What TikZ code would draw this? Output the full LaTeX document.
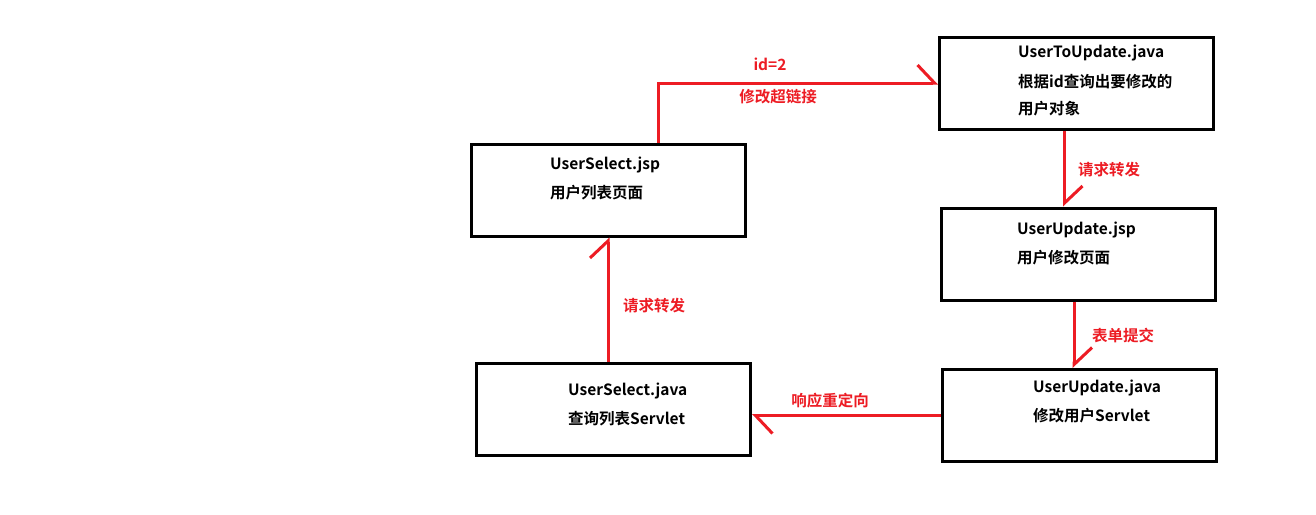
\documentclass[tikz,border=0pt]{standalone}
\usepackage{fontspec}
\setmainfont{Noto Sans CJK SC}[BoldFont={Noto Sans CJK SC Bold}]
\usetikzlibrary{arrows.meta}
\definecolor{pred}{RGB}{237,28,36}
\begin{document}
\begin{tikzpicture}[x=1pt,y=-1pt,
  box/.style={draw=black,line width=3pt,rectangle,inner sep=0pt,minimum width=274pt,minimum height=92pt},
  txt/.style={anchor=west,inner sep=0pt,font=\fontsize{15.5}{18}\selectfont\bfseries,text=black},
  lbl/.style={inner sep=0pt,font=\fontsize{15.5}{18}\selectfont\bfseries,text=pred},
  conn/.style={draw=pred,line width=3pt,-{Straight Barb[left,length=17pt,width=36pt]}}]
\fill[white] (0,0) rectangle (1316,514);
\useasboundingbox (0,0) rectangle (1316,514);
% boxes
\node[box] (sel) at (608,190) {};
\node[box] (toupd) at (1076.5,83) {};
\node[box] (updjsp) at (1078.5,254) {};
\node[box] (updjava) at (1079.5,415.5) {};
\node[box] (seljava) at (613.5,409.5) {};
% texts
\node[txt] (t1a) at (550,165) {UserSelect.jsp};
\node[txt] (t1b) at (550,193) {用户列表页面};
\node[txt] (t2a) at (1018,53) {UserToUpdate.java};
\node[txt] (t2b) at (1018,82) {根据id查询出要修改的};
\node[txt] (t2c) at (1018,109) {用户对象};
\node[txt] (t3a) at (1017,230) {UserUpdate.jsp};
\node[txt] (t3b) at (1017,258) {用户修改页面};
\node[txt] (t4a) at (1033,388) {UserUpdate.java};
\node[txt] (t4b) at (1033,416) {修改用户Servlet};
\node[txt] (t5a) at (568,391) {UserSelect.java};
\node[txt] (t5b) at (568,419) {查询列表Servlet};
% connectors
\draw[conn] ([xshift=50pt]sel.north) |- (toupd.west);
\draw[conn] ([xshift=-12pt]toupd.south) -- ([xshift=-12pt]toupd.south |- updjsp.north);
\draw[conn] ([xshift=-4.5pt]updjsp.south) -- ([xshift=-4.5pt]updjsp.south |- updjava.north);
\draw[conn] (updjava.west) -- (updjava.west -| seljava.east);
\draw[conn] ([xshift=-5.5pt]seljava.north) -- ([xshift=-5.5pt]seljava.north |- sel.south);
% labels
\node[lbl] (l1) at (770,64) {id=2};
\node[lbl] (l2) at (778,97) {修改超链接};
\node[lbl] (l3) at (1109,170) {请求转发};
\node[lbl] (l4) at (1123,336) {表单提交};
\node[lbl] (l5) at (830,401) {响应重定向};
\node[lbl] (l6) at (654,306) {请求转发};
\end{tikzpicture}
\end{document}
